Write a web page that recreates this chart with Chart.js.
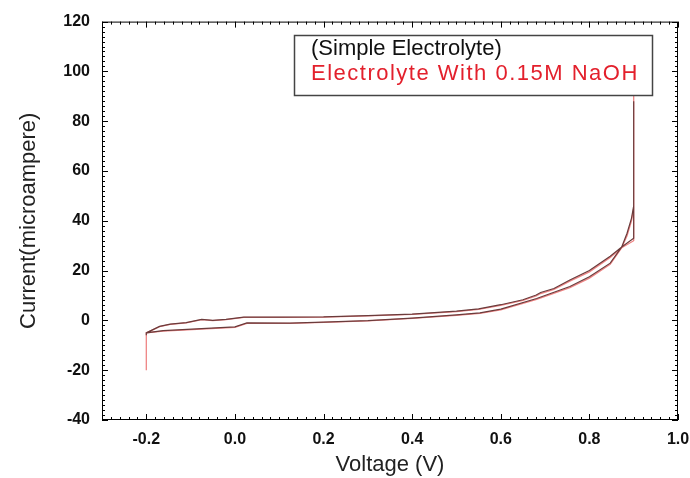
<!DOCTYPE html>
<html>
<head>
<meta charset="utf-8">
<script src="https://cdn.jsdelivr.net/npm/chart.js@4/dist/chart.umd.min.js"></script>
<style>
  body { margin: 0; background: #fff; }
  #wrap { width: 690px; height: 478px; }
</style>
</head>
<body>
<div id="wrap"><canvas id="iv-chart"></canvas></div>
<script>
document.addEventListener("DOMContentLoaded", function(e){

    // voltage sweep: forward branch, vertical at 0.9 V, then back
    const voltage = [-0.2, -0.2, -0.162, -0.086, 0.0, 0.027, 0.124, 0.2, 0.3, 0.4, 0.5, 0.553, 0.6, 0.681, 0.756, 0.8, 0.847, 0.873, 0.885, 0.895, 0.9, 0.9,
                     0.9, 0.873, 0.847, 0.8, 0.756, 0.72, 0.69, 0.68, 0.65, 0.6, 0.55, 0.5, 0.4, 0.3, 0.2, 0.1, 0.02, -0.02, -0.05, -0.075, -0.11, -0.146, -0.17, -0.2]
    const simpleCurrent = [-6, -5, -4.1, -3.4, -2.6, -1.0, -1.1, -0.7, -0.1, 0.9, 2.2, 3.0, 4.5, 8.8, 13.6, 17.5, 23, 29.5, 35, 41, 46, 88,
                           33, 29.5, 25.8, 20, 16.2, 12.8, 11.2, 10.2, 8.3, 6.3, 4.6, 3.7, 2.5, 1.9, 1.4, 1.3, 1.3, 0.4, 0, 0.4, -0.9, -1.5, -2.4, -5]
    const naohCurrent = [-20, -5, -4.3, -3.6, -2.8, -1.2, -1.2, -0.8, -0.2, 0.8, 2.0, 2.8, 4.2, 8.4, 13.2, 17, 22.5, 29.2, 34, 40, 45, 92,
                         32, 29.2, 25.3, 19.5, 15.8, 12.5, 10.8, 9.8, 8, 6, 4.4, 3.5, 2.4, 1.8, 1.3, 1.2, 1.2, 0.3, -0.1, 0.3, -1.0, -1.6, -2.5, -5]

    const seriesNames = ["(Simple Electrolyte)", "Electrolyte With 0.15M NaOH"]
    const voltageTicks = [-0.2, 0.0, 0.2, 0.4, 0.6, 0.8, 1.0]
    const currentTicks = [-40, -20, 0, 20, 40, 60, 80, 100, 120]

    function toPoints(current){
        return voltage.map((v, i) => ({x: v, y: current[i]}))
    }

    // frame + inward major/minor ticks on all four sides
    const frameTicks = {
        id: "frameTicks",
        afterDatasetsDraw(chart){
            const {ctx, chartArea: a, scales: {x, y}} = chart
            ctx.save()
            ctx.strokeStyle = "#000"
            ctx.lineWidth = 1
            ctx.strokeRect(a.left + 0.5, a.top + 0.5, a.right - a.left - 1, a.bottom - a.top - 1)
            ctx.beginPath()
            for (let i = 0; i <= 65; i++){
                const v = x.min + i * 0.02
                const px = Math.round(x.getPixelForValue(v)) + 0.5
                const len = (i - 5) % 10 === 0 ? 6 : 3
                ctx.moveTo(px, a.bottom); ctx.lineTo(px, a.bottom - len)
                ctx.moveTo(px, a.top); ctx.lineTo(px, a.top + len)
            }
            for (let i = 0; i <= 80; i++){
                const v = y.min + i * 2
                const py = Math.round(y.getPixelForValue(v)) + 0.5
                const len = i % 10 === 0 ? 6 : 3
                ctx.moveTo(a.left, py); ctx.lineTo(a.left + len, py)
                ctx.moveTo(a.right, py); ctx.lineTo(a.right - len, py)
            }
            ctx.stroke()
            ctx.restore()
        }
    }

    const legendBox = {
        id: "legendBox",
        afterDraw(chart){
            const ctx = chart.ctx
            const x0 = 294, y0 = 35, w = 358, h = 60
            ctx.save()
            ctx.fillStyle = "#fff"
            ctx.fillRect(x0, y0, w, h)
            ctx.strokeStyle = "#444"
            ctx.lineWidth = 1.5
            ctx.strokeRect(x0 + 0.5, y0 + 0.5, w, h)
            ctx.font = "22px 'Liberation Sans', Arial, sans-serif"
            ctx.textBaseline = "middle"
            ctx.fillStyle = "#111"
            ctx.fillText(chart.data.datasets[0].label, 311, y0 + 14)
            ctx.letterSpacing = "1.5px"
            ctx.fillStyle = "#e3202c"
            ctx.fillText(chart.data.datasets[1].label, 311, y0 + 39)
            ctx.restore()
        }
    }

    let ivData = {
        datasets: [{
            label: seriesNames[0],
            data: toPoints(simpleCurrent),
            showLine: true,
            borderColor: "#6a3c3c",
            borderWidth: 1.2,
            pointRadius: 0,
            tension: 0
        }, {
            label: seriesNames[1],
            data: toPoints(naohCurrent),
            showLine: true,
            borderColor: "rgba(232, 90, 90, 0.75)",
            borderWidth: 1.3,
            pointRadius: 0,
            tension: 0
        }]
    }

    const tickFont = {family: "'Liberation Sans', Arial, sans-serif", size: 16, weight: "bold"}
    const titleFont = {family: "'Liberation Sans', Arial, sans-serif", size: 22}

    let ivOptions = {
        responsive: false,
        animation: false,
        layout: {padding: {top: 21, right: 0, left: 0, bottom: 0}},
        plugins: {legend: {display: false}, tooltip: {enabled: false}},
        scales: {
            x: {
                type: "linear",
                min: -0.3,
                max: 1.0,
                afterBuildTicks: scale => { scale.ticks = voltageTicks.map(v => ({value: v})) },
                afterFit: scale => { scale.height = 58; scale.paddingRight = 12; scale.paddingLeft = 0 },
                grid: {display: false, drawTicks: false},
                border: {display: false},
                ticks: {color: "#111", font: tickFont, padding: 10, callback: v => v.toFixed(1)},
                title: {display: true, text: "Voltage (V)", color: "#222", font: titleFont, padding: {top: 4, bottom: 0}}
            },
            y: {
                type: "linear",
                min: -40,
                max: 120,
                afterBuildTicks: scale => { scale.ticks = currentTicks.map(v => ({value: v})) },
                afterFit: scale => { scale.width = 102 },
                grid: {display: false, drawTicks: false},
                border: {display: false},
                ticks: {color: "#111", font: tickFont, padding: 12},
                title: {display: true, text: "Current(microampere)", color: "#222", font: titleFont, padding: {top: 16, bottom: 0}}
            }
        }
    }

    const canvas = document.getElementById("iv-chart")
    canvas.width = 690
    canvas.height = 478
    new Chart(canvas.getContext("2d"), {
        type: "scatter",
        data: ivData,
        options: ivOptions,
        plugins: [frameTicks, legendBox]
    })
})
</script>
</body>
</html>
